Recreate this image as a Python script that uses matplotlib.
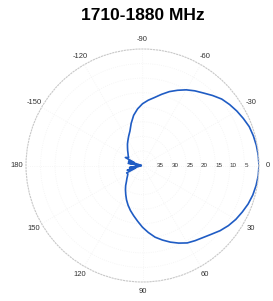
import numpy as np
import matplotlib
matplotlib.use("Agg")
import matplotlib.pyplot as plt

plt.rcParams['font.family'] = ['Liberation Sans', 'DejaVu Sans']

# antenna pattern, angle in degrees (clockwise from east), attenuation in dB
angle_deg = [-180, -175, -171, -167, -163, -160, -155, -150, -145, -140, -135, -130,
             -125, -120, -115, -110, -105, -100, -95, -90, -85, -80, -75, -70, -65,
             -60, -55, -50, -45, -40, -35, -30, -25, -20, -15, -10, -5, 0,
             5, 10, 15, 20, 25, 30, 35, 40, 45, 50, 55, 60, 65, 70, 75, 80, 85,
             90, 95, 100, 105, 110, 115, 120, 125, 130, 135, 140, 145, 150,
             155, 160, 163, 167, 171, 175, 180]
atten_db = [39.5, 38.5, 35.0, 39.0, 35.0, 37.0, 33.5, 34.5, 34.0, 33.5, 32.8, 32.0,
            31.0, 30.0, 28.8, 27.4, 25.0, 22.5, 20.5, 18.8, 17.5, 16.3, 14.7, 13.0, 11.5,
            10.0, 8.7, 7.5, 6.0, 4.5, 3.5, 2.6, 1.8, 1.0, 0.6, 0.3, 0.1, 0.0,
            0.1, 0.4, 0.8, 1.4, 2.2, 3.0, 4.0, 5.2, 6.6, 7.7, 8.5, 9.3, 10.6, 12.0, 13.5, 15.0, 16.9,
            18.8, 20.8, 22.5, 24.0, 25.5, 27.0, 28.5, 29.8, 31.0, 32.2, 33.0, 33.7, 34.2,
            34.0, 37.5, 34.5, 39.0, 35.5, 38.5, 39.5]

theta_ticks = [0, 30, 60, 90, 120, 150, 180, 210, 240, 270, 300, 330]
theta_labels = ['0', '30', '60', '90', '120', '150', '180', '-150', '-120', '-90', '-60', '-30']
r_ticks = [35, 30, 25, 20, 15, 10, 5]
r_labels = ['35', '30', '25', '20', '15', '10', '5']

fig = plt.figure(figsize=(2.73, 3.01), dpi=100)
ax = fig.add_axes([26 / 273, 19 / 301, 233 / 273, 233 / 301], projection='polar')
ax.set_theta_zero_location('E')
ax.set_theta_direction(-1)

ax.plot(np.deg2rad(angle_deg), atten_db, color='#1f5cc4', lw=1.2)
ax.set_rlim(40, 0)

ax.set_thetagrids(theta_ticks, theta_labels, fontsize=5.5, color='#333333')
ax.tick_params(axis='x', pad=-4)
ax.set_rticks(r_ticks)
ax.set_yticklabels([])
for r, lab in zip(r_ticks, r_labels):
    ax.text(0, r, lab, fontsize=4.5, color='#333333', ha='left', va='center')

ax.grid(True, color='#f3f3f3', linestyle=':', lw=0.6)
ax.spines['polar'].set_linestyle(':')
ax.spines['polar'].set_color('#c8c8c8')
ax.spines['polar'].set_linewidth(0.8)

fig.text(143 / 273, 1 - 15 / 301, '1710-1880 MHz', fontsize=12.5, fontweight='bold',
         ha='center', va='center')

fig.savefig('out.png', dpi=100)
